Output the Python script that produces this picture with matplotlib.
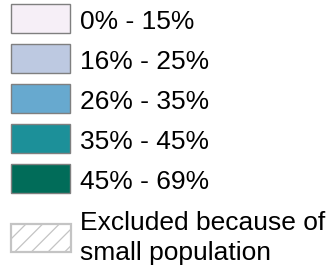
import matplotlib
matplotlib.use("Agg")
import matplotlib.pyplot as plt

labels = ["0% - 15%", "16% - 25%", "26% - 35%", "35% - 45%", "45% - 69%"]
colors = ["#f6eff7", "#bdc9e1", "#67a9cf", "#1c9099", "#016c59"]
excluded_label = "Excluded because of\nsmall population"

plt.rcParams['font.family'] = ['Liberation Sans', 'DejaVu Sans']
plt.rcParams['hatch.color'] = '#a8a8a8'
plt.rcParams['hatch.linewidth'] = 0.9
fig = plt.figure(figsize=(3.35, 2.66), dpi=100)
ax = fig.add_axes([0, 0, 1, 1])
ax.set_xlim(0, 335)
ax.set_ylim(266, 0)
ax.axis('off')

centers = [18.5 + 40 * i for i in range(len(labels))]
ax.barh(centers, [59] * len(labels), left=11, height=29, color=colors,
        edgecolor="#7f7f7f", linewidth=1.0)
for c, lab in zip(centers, labels):
    ax.text(80, c + 10.5, lab, fontsize=19, va='baseline', ha='left', color='black')

ax.barh([237.8], [60], left=10.5, height=28, color='white', edgecolor='#c4c4c4',
        linewidth=1.6, hatch='//')
for k, line in enumerate(excluded_label.split("\n")):
    ax.text(80, 230 + 30 * k, line, fontsize=19, va='baseline', ha='left',
            color='black')

fig.savefig("out.png", dpi=100)
